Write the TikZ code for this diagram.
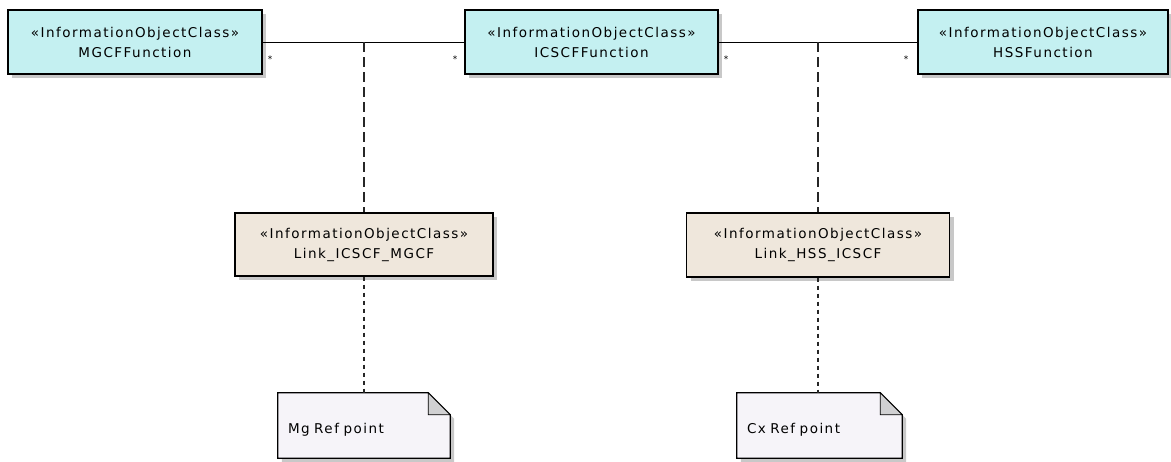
\documentclass[tikz,border=0pt]{standalone}
\usepackage{fontspec}
\setmainfont{DejaVu Sans}[LetterSpace=11]
\usetikzlibrary{shadows,calc}
\definecolor{clsfill}{RGB}{196,240,241}
\definecolor{lnkfill}{RGB}{239,231,220}
\definecolor{notefill}{RGB}{246,244,249}
\definecolor{foldfill}{RGB}{208,208,210}
\definecolor{shadowc}{RGB}{200,200,200}
\tikzset{
  boxshadow/.style={drop shadow={shadow xshift=4pt,shadow yshift=-4pt,fill=shadowc,opacity=1}},
  clsbox/.style={draw=black,line width=1.3pt,fill=clsfill,boxshadow,inner sep=0pt,align=center,
    font=\fontsize{13.5}{20}\selectfont,minimum height=64pt},
  lnkbox/.style={clsbox,fill=lnkfill},
  notebox/.style={inner xsep=10pt,inner ysep=0pt,minimum height=65pt,text width=#1,align=left,font=\fontsize{13.5}{15}\selectfont},
  assoc/.style={line width=1pt,black},
  upper/.style={line width=1.4pt,black!85,dash pattern=on 10pt off 5pt},
  lower/.style={line width=1.4pt,black!85,dash pattern=on 4pt off 4pt},
  mult/.style={font=\fontsize{9}{9}\selectfont,inner sep=0pt}
}
\begin{document}
\begin{tikzpicture}[x=1pt,y=-1pt]
\useasboundingbox (0,0) rectangle (1171,461);
\coordinate (j1) at (364,42);
\coordinate (j2) at (818,42);
% class boxes
\node[clsbox,minimum width=254pt] (mgcf) at (135,42) {«InformationObjectClass»\\MGCFFunction};
\node[clsbox,minimum width=253pt] (icscf) at (591.5,42) {«InformationObjectClass»\\ICSCFFunction};
\node[clsbox,minimum width=250pt] (hss) at (1043,42) {«InformationObjectClass»\\HSSFunction};
\draw[assoc] (mgcf.east) -- (icscf.west);
\draw[assoc] (icscf.east) -- (hss.west);
% link classes
\node[lnkbox,minimum width=258pt,minimum height=63pt] (link1) at (364,244.5) {«InformationObjectClass»\\Link\_ICSCF\_MGCF};
\node[lnkbox,minimum width=263pt] (link2) at (818,245) {«InformationObjectClass»\\Link\_HSS\_ICSCF};
\draw[upper] (j1) -- (link1.north);
\draw[upper] (j2) -- (link2.north);
% notes
\node[notebox=152pt] (note1) at (364,425.5) {};
\node[notebox=145pt] (note2) at (819.5,425.5) {};
\foreach \n in {note1,note2}{
  \fill[shadowc] ($(\n.north west)+(4,4)$) -- ($(\n.north east)+(-18,4)$) -- ($(\n.north east)+(4,26)$) -- ($(\n.south east)+(4,4)$) -- ($(\n.south west)+(4,4)$) -- cycle;
  \draw[line width=1.3pt,fill=notefill] (\n.north west) -- ($(\n.north east)+(-22,0)$) -- ($(\n.north east)+(0,22)$) -- (\n.south east) -- (\n.south west) -- cycle;
  \draw[line width=0.8pt,fill=foldfill] ($(\n.north east)+(-22,0)$) -- ($(\n.north east)+(-22,22)$) -- ($(\n.north east)+(0,22)$) -- cycle;
}
\node[notebox=152pt,anchor=west] at ([yshift=-4pt]note1.west) {Mg Ref point};
\node[notebox=145pt,anchor=west] at ([yshift=-4pt]note2.west) {Cx Ref point};
\draw[lower] (link1.south) -- (link1.south |- note1.north);
\draw[lower] (link2.south) -- (link2.south |- note2.north);
% multiplicities
\node[mult] (m1) at (270,59) {*};
\node[mult] (m2) at (455,59) {*};
\node[mult] (m3) at (726,59) {*};
\node[mult] (m4) at (906,59) {*};
\end{tikzpicture}
\end{document}
